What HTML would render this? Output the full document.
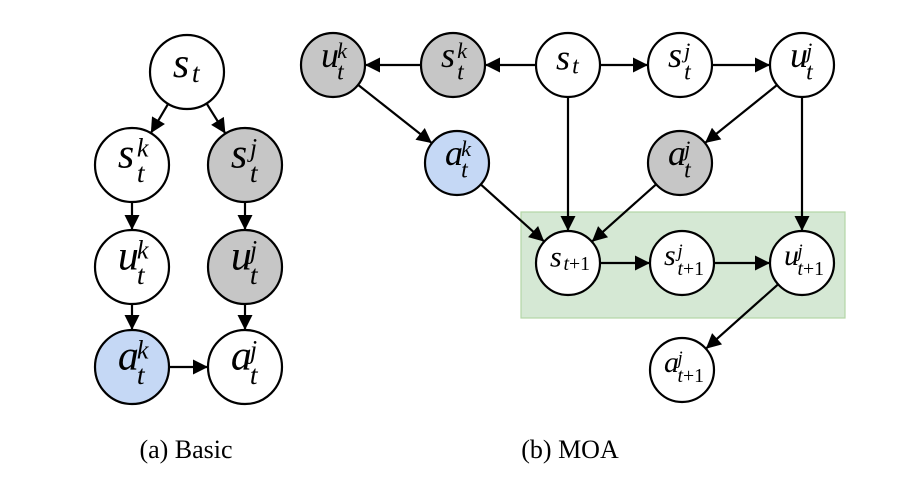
<!DOCTYPE html>
<html><head><meta charset="utf-8"><style>
html,body{margin:0;padding:0;background:#fff;}
svg{display:block;}
text{font-family:"Liberation Serif",serif;}
</style></head><body>
<svg id="g" width="900" height="491" viewBox="0 0 900 491">
<defs>
<marker id="arr" viewBox="0 0 10 10" refX="10" refY="5" markerWidth="18" markerHeight="15" orient="auto" markerUnits="userSpaceOnUse"><path d="M0,0 L10,5 L0,10 z" fill="#000"/></marker></defs>
<rect x="521" y="212" width="324" height="106" fill="#d5e8d4" stroke="#b3d6a6" stroke-width="1.2"/>
<g id="edges"></g><g id="nodes"></g>
<text x="186" y="458" font-size="26" text-anchor="middle">(a) Basic</text>
<text x="570" y="458" font-size="26" text-anchor="middle">(b) MOA</text>
</svg>
<script>
const NS='http://www.w3.org/2000/svg';
// [id, x, y, r, fill, base, sup, sub, fontsize]
const nodes=[
['b-st',187,72,37,'#fff','s','','t',42],
['b-stk',132,165,37,'#fff','s','k','t',42],
['b-stj',245,165,37,'#c6c6c6','s','j','t',42],
['b-utk',132,267,37,'#fff','u','k','t',42],
['b-utj',245,267,37,'#c6c6c6','u','j','t',42],
['b-atk',132,367,37,'#c5d8f5','a','k','t',42],
['b-atj',245,367,37,'#fff','a','j','t',42],
['m-utk',333,65,32,'#c6c6c6','u','k','t',36],
['m-stk',453,65,32,'#c6c6c6','s','k','t',36],
['m-st',568,65,32,'#fff','s','','t',36],
['m-stj',680,65,32,'#fff','s','j','t',36],
['m-utj',802,65,32,'#fff','u','j','t',36],
['m-atk',457,163,32,'#c5d8f5','a','k','t',36],
['m-atj',680,163,32,'#c6c6c6','a','j','t',36],
['m-st1',568,263,32,'#fff','s','','t+1',30],
['m-stj1',682,263,32,'#fff','s','j','t+1',30],
['m-utj1',802,263,32,'#fff','u','j','t+1',30],
['m-atj1',682,370,32,'#fff','a','j','t+1',30]
];
const edges=[['b-st','b-stk'],['b-st','b-stj'],['b-stk','b-utk'],['b-stj','b-utj'],['b-utk','b-atk'],['b-utj','b-atj'],['b-atk','b-atj'],
['m-stk','m-utk'],['m-st','m-stk'],['m-st','m-stj'],['m-stj','m-utj'],['m-utk','m-atk'],['m-utj','m-atj'],['m-st','m-st1'],['m-atk','m-st1'],['m-atj','m-st1'],['m-utj','m-utj1'],['m-st1','m-stj1'],['m-stj1','m-utj1'],['m-utj1','m-atj1']];
const byId={};nodes.forEach(n=>byId[n[0]]=n);
const eg=document.getElementById('edges'),ng=document.getElementById('nodes');
edges.forEach(e=>{const a=byId[e[0]],b=byId[e[1]];const dx=b[1]-a[1],dy=b[2]-a[2],d=Math.hypot(dx,dy),ux=dx/d,uy=dy/d;
const l=document.createElementNS(NS,'line');
l.setAttribute('x1',a[1]+ux*a[3]);l.setAttribute('y1',a[2]+uy*a[3]);
l.setAttribute('x2',b[1]-ux*b[3]);l.setAttribute('y2',b[2]-uy*b[3]);
l.setAttribute('stroke','#000');l.setAttribute('stroke-width','2.2');l.setAttribute('marker-end','url(#arr)');


eg.appendChild(l);});
nodes.forEach(n=>{const g=document.createElementNS(NS,'g');


const c=document.createElementNS(NS,'circle');c.setAttribute('cx',n[1]);c.setAttribute('cy',n[2]);c.setAttribute('r',n[3]);c.setAttribute('fill',n[4]);c.setAttribute('stroke','#000');c.setAttribute('stroke-width','2.2');g.appendChild(c);
const fs=n[8];const big=n[7]==='t+1';
const t=document.createElementNS(NS,'text');t.setAttribute('font-size',fs);t.setAttribute('font-style','italic');
const wBase=fs*0.45, wSub=big?fs*0.75:fs*0.22;
const total=wBase+wSub;const x0=n[1]-total/2;
t.setAttribute('x',x0);t.setAttribute('y',n[2]+(n[6]?fs*0.06:fs*0.12));
t.textContent=n[5];
if(n[6]){const sp=document.createElementNS(NS,'tspan');sp.setAttribute('font-size',fs*0.62);sp.setAttribute('x',x0+wBase);sp.setAttribute('y',n[2]-fs*0.2);sp.textContent=n[6];t.appendChild(sp);}
const sub=document.createElementNS(NS,'tspan');sub.setAttribute('font-size',fs*0.66);sub.setAttribute('x',x0+wBase);sub.setAttribute('y',n[2]+(n[6]?fs*0.4:fs*0.24));
if(big){const a=document.createElementNS(NS,'tspan');a.textContent='t';const b=document.createElementNS(NS,'tspan');b.setAttribute('font-style','normal');b.textContent='+1';sub.appendChild(a);sub.appendChild(b);}
else sub.textContent=n[7];
t.appendChild(sub);
g.appendChild(t);ng.appendChild(g);});
</script>
</body></html>
